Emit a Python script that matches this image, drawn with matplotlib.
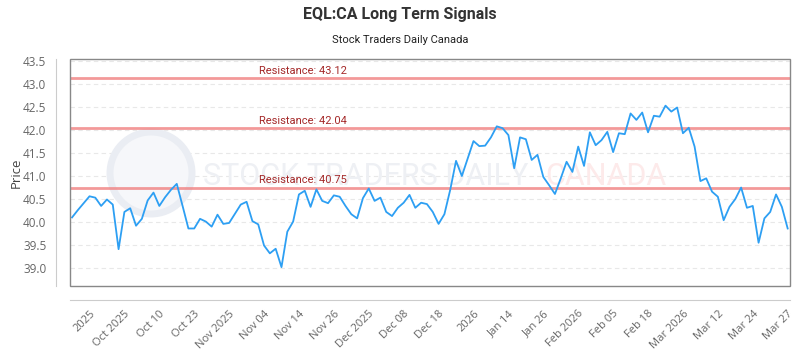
import matplotlib.pyplot as plt
from matplotlib.patches import Rectangle, Circle

# closing prices, one per trading day
prices = [
    40.10, 40.26, 40.41, 40.56, 40.53, 40.35, 40.49, 40.38, 39.41, 40.22,
    40.30, 39.92, 40.07, 40.47, 40.64, 40.35, 40.54, 40.70, 40.83, 40.35,
    39.86, 39.86, 40.07, 40.01, 39.90, 40.16, 39.96, 39.98, 40.18, 40.38,
    40.44, 40.02, 39.95, 39.49, 39.32, 39.42, 39.02, 39.79, 40.01, 40.60,
    40.68, 40.33, 40.71, 40.46, 40.41, 40.58, 40.55, 40.35, 40.17, 40.08,
    40.52, 40.73, 40.46, 40.53, 40.22, 40.13, 40.31, 40.42, 40.59, 40.31,
    40.42, 40.39, 40.22, 39.96, 40.17, 40.70, 41.33, 41.00, 41.38, 41.76,
    41.65, 41.66, 41.84, 42.08, 42.04, 41.89, 41.17, 41.84, 41.80, 41.35,
    41.46, 40.98, 40.80, 40.61, 40.95, 41.31, 41.09, 41.64, 41.22, 41.95,
    41.67, 41.78, 41.96, 41.52, 41.93, 41.91, 42.36, 42.22, 42.38, 41.95,
    42.31, 42.29, 42.53, 42.40, 42.49, 41.93, 42.05, 41.64, 40.89, 40.95,
    40.66, 40.55, 40.04, 40.33, 40.50, 40.75, 40.31, 40.35, 39.55, 40.08,
    40.22, 40.60, 40.33, 39.86,
]

resistance = [43.12, 42.04, 40.75]

tick_labels = ["2025", "Oct 2025", "Oct 10", "Oct 23", "Nov 2025", "Nov 04",
               "Nov 14", "Nov 26", "Dec 2025", "Dec 08", "Dec 18", "2026",
               "Jan 14", "Jan 26", "Feb 2026", "Feb 05", "Feb 18", "Mar 2026",
               "Mar 12", "Mar 24", "Mar 27"]

yticks = [39.0, 39.5, 40.0, 40.5, 41.0, 41.5, 42.0, 42.5, 43.0, 43.5]

plt.rcParams['font.family'] = ['Open Sans', 'DejaVu Sans']

fig = plt.figure(figsize=(8, 3.5), dpi=100)
ax = fig.add_axes([70 / 800, 1 - 286 / 350, 720 / 800, (286 - 59.3) / 350])

# detached axis lines (set before tick labels, this resets them)
ax.spines['top'].set_visible(False)
ax.spines['right'].set_visible(False)
ax.spines['left'].set_position(('outward', 10))
ax.spines['bottom'].set_position(('outward', 10))
ax.spines['left'].set_color('#cccccc')
ax.spines['bottom'].set_color('#cccccc')

x = list(range(len(prices)))

# grid
for v in yticks:
    ax.axhline(v, color='#e8e8e8', lw=0.8, ls=(0, (4, 3)), zorder=0)

# watermark
ax.add_patch(Circle((151, 177), 41, transform=None, facecolor='#f6f7fa',
                    edgecolor='#eaedf3', lw=5, zorder=0.5))
ax.text(203 / 800, 1 - 177 / 350, "STOCK TRADERS DAILY", fontsize=22,
        family='Roboto', color='#eef0f4', va='center', ha='left', zorder=0.6,
        transform=fig.transFigure)
ax.text(545 / 800, 1 - 177 / 350, "CANADA", fontsize=22, family='Roboto',
        color='#fdeaea', va='center', ha='left', zorder=0.6,
        transform=fig.transFigure)

# resistance lines
for r in resistance:
    ax.axhline(r, color='#f08080', lw=2, alpha=0.8, zorder=2)
    ax.annotate(f"Resistance: {r:.2f}", xy=(0.2625, r), xycoords=('axes fraction', 'data'),
                xytext=(0, 1.5), textcoords='offset points', fontsize=8,
                family='Roboto', color='#a52a2a', va='bottom', ha='left', zorder=3)

ax.plot(x, prices, color='#2d9ff3', lw=1.3, zorder=4)

ax.set_xlim(-0.35, len(prices) - 1 + 0.4)
ax.set_ylim(38.61, 43.537)

ax.set_yticks(yticks)
ax.set_yticklabels([f"{v:.1f}" for v in yticks])
ax.set_xticks(range(3, 3 + 6 * len(tick_labels), 6))
ax.set_xticklabels(tick_labels, rotation=45, ha='right', rotation_mode='anchor')

ax.tick_params(axis='y', length=0, pad=7, labelsize=8.5, labelcolor='#666666')
ax.tick_params(axis='x', length=0, pad=6, labelsize=8, labelcolor='#666666')

# plot frame
ax.add_patch(Rectangle((0, 0), 1, 1, transform=ax.transAxes, fill=False,
                       edgecolor='#888888', lw=1, clip_on=False, zorder=5))

ax.set_ylabel("Price", fontsize=9.5, color='#444444', labelpad=0)

fig.text(0.5, 1 - 15 / 350, "EQL:CA Long Term Signals", ha='center', va='center',
         fontsize=11.5, fontweight='bold', family='Roboto', color='#333333')
fig.text(0.5, 1 - 40 / 350, "Stock Traders Daily Canada", ha='center', va='center',
         fontsize=8, family='Roboto', color='#222222')

fig.savefig('out.png', dpi=100)
